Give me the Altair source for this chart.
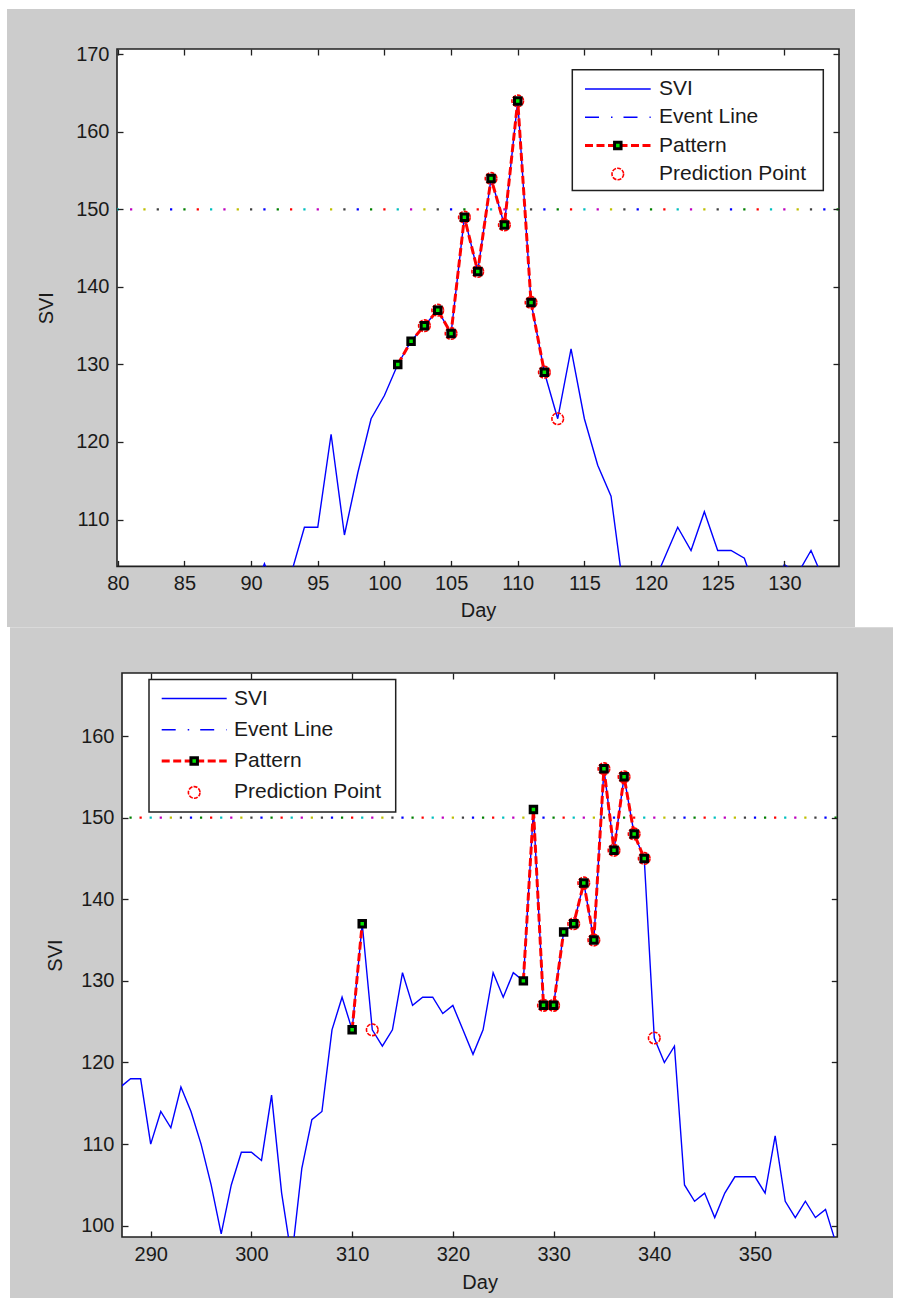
import altair as alt
import pandas as pd

FONT = "Liberation Sans"
TXT = "#1a1a1a"
AX = "#202020"
GREY = "#cccccc"
CYCLE = ["b", "g", "r", "c", "m", "y", "k"]
CYCLE_COLORS = ["#0000ff", "#008000", "#ff0000", "#00bfbf", "#bf00bf", "#bfbf00", "#404040"]
LEGEND_LABELS = ["SVI", "Event Line", "Pattern", "Prediction Point"]
EVENT_LEVEL = 150

# ---------------- top panel data ----------------
top_days = list(range(90, 135))
top_svi = [100, 104.3, 100, 103, 109, 109, 121, 108, 116, 123, 126, 130, 133, 135, 137,
           134, 149, 142, 154, 148, 164, 138, 129, 123, 132, 123, 117, 113, 100, 98,
           101, 105, 109, 106, 111, 106, 106, 105, 100, 100, 104.2, 103, 106, 102, 100]
top_pattern_days = list(range(101, 113))
top_pattern_svi = [130, 133, 135, 137, 134, 149, 142, 154, 148, 164, 138, 129]
top_pattern_seg = [0] * 12
top_ring_days = list(range(103, 113))
top_ring_svi = [135, 137, 134, 149, 142, 154, 148, 164, 138, 129]
top_pred_days = [113]
top_pred_svi = [123]
top_event_days = list(range(80, 135))
top_event_first_color = 3  # day 80 -> cyan
top_xticks = [80, 85, 90, 95, 100, 105, 110, 115, 120, 125, 130]
top_yticks = [110, 120, 130, 140, 150, 160, 170]

# ---------------- bottom panel data ----------------
bot_days = list(range(287, 359))
bot_svi = [117, 118, 118, 110, 114, 112, 117, 114, 110, 105, 99, 105, 109, 109, 108, 116,
           104, 96, 107, 113, 114, 124, 128, 124, 137, 124, 122, 124, 131, 127, 128, 128,
           126, 127, 124, 121, 124, 131, 128, 131, 130, 151, 127, 127, 136, 137, 142, 135,
           156, 146, 155, 148, 145, 123, 120, 122, 105, 103, 104, 101, 104, 106, 106, 106,
           104, 111, 103, 101, 103, 101, 102, 98]
bot_pattern_days = [310, 311, 327, 328, 329, 330, 331, 332, 333, 334, 335, 336, 337, 338, 339]
bot_pattern_svi = [124, 137, 130, 151, 127, 127, 136, 137, 142, 135, 156, 146, 155, 148, 145]
bot_pattern_seg = [0, 0, 1, 1, 1, 1, 1, 1, 1, 1, 1, 1, 1, 1, 1]
bot_ring_days = [329, 330, 332, 333, 334, 335, 336, 337, 338, 339]
bot_ring_svi = [127, 127, 137, 142, 135, 156, 146, 155, 148, 145]
bot_pred_days = [312, 340]
bot_pred_svi = [124, 123]
bot_event_days = list(range(287, 359))
bot_event_first_color = 0  # day 287 -> blue
bot_xticks = [290, 300, 310, 320, 330, 340, 350]
bot_yticks = [100, 110, 120, 130, 140, 150, 160]

RING_STYLE = dict(shape="circle", size=135, filled=False, color="#ff0000",
                  strokeWidth=1.6, strokeDash=[4, 1.2], opacity=1)
SQUARE_STYLE = dict(size=42, filled=True, fill="#00e600", stroke="#000000",
                    strokeWidth=3, opacity=1)
PATTERN_STYLE = dict(color="#ff0000", strokeWidth=3, strokeDash=[8, 3.5])


def one():
    return pd.DataFrame({"o": [0]})


def legend_layers(box, ys, lx0, lx1, mx, tx):
    bx0, by0, bx1, by1 = box
    L = []
    L.append(alt.Chart(one()).mark_rect(fill="white", stroke=AX, strokeWidth=1.5).encode(
        x=alt.value(bx0), x2=alt.value(bx1), y=alt.value(by0), y2=alt.value(by1)))
    # SVI
    L.append(alt.Chart(one()).mark_rule(color="#0000ff", strokeWidth=1.4).encode(
        x=alt.value(lx0), x2=alt.value(lx1), y=alt.value(ys[0])))
    # Event line
    L.append(alt.Chart(one()).mark_rule(color="#0000ff", strokeWidth=1.4,
                                        strokeDash=[14, 12, 1.5, 11]).encode(
        x=alt.value(lx0), x2=alt.value(lx1), y=alt.value(ys[1])))
    # Pattern
    L.append(alt.Chart(one()).mark_rule(**PATTERN_STYLE).encode(
        x=alt.value(lx0), x2=alt.value(lx1), y=alt.value(ys[2])))
    L.append(alt.Chart(one()).mark_square(**SQUARE_STYLE).encode(
        x=alt.value(mx), y=alt.value(ys[2])))
    # Prediction point
    L.append(alt.Chart(one()).mark_point(**RING_STYLE).encode(
        x=alt.value(mx), y=alt.value(ys[3])))
    for lab, yy in zip(LEGEND_LABELS, ys):
        L.append(alt.Chart(one()).mark_text(text=lab, align="left", baseline="middle", font=FONT,
                                            fontSize=21, color=TXT).encode(
            x=alt.value(tx), y=alt.value(yy)))
    return L


def panel(days, svi, pdays, psvi, pseg, rdays, rsvi, qdays, qsvi, edays, efirst,
          xdom, ydom, xt, yt, W, H, grey_box, leg, ytitle_x, title_y):
    xs = alt.Scale(domain=xdom, nice=False, zero=False)
    ysc = alt.Scale(domain=ydom, nice=False, zero=False)
    gx0, gy0, gx1, gy1 = grey_box

    grey = alt.Chart(one()).mark_rect(color=GREY).encode(
        x=alt.value(gx0), x2=alt.value(gx1), y=alt.value(gy0), y2=alt.value(gy1))
    frame = alt.Chart(one()).mark_rect(fill="white", stroke=AX, strokeWidth=1.6).encode(
        x=alt.value(0), x2=alt.value(W), y=alt.value(0), y2=alt.value(H))

    svi_df = pd.DataFrame({"day": days, "svi": svi})
    x_lab = alt.Axis(orient="bottom", values=xt, title="Day", ticks=False, tickSize=0,
                     domain=False, grid=False, labelPadding=7, labelFont=FONT, labelFontSize=20,
                     labelColor=TXT, titleFont=FONT, titleFontSize=20, titleFontWeight="normal",
                     titleColor=TXT, titleX=W / 2, titleY=title_y, titleBaseline="alphabetic",
                     titleAlign="center", labelFlush=False, labelOverlap=False, zindex=1,
                     format="d")
    y_lab = alt.Axis(orient="left", values=yt, title="SVI", ticks=False, tickSize=0,
                     domain=False, grid=False, labelPadding=8, labelFont=FONT, labelFontSize=20,
                     labelColor=TXT, titleFont=FONT, titleFontSize=20, titleFontWeight="normal",
                     titleColor=TXT, titleX=ytitle_x, titleY=H / 2, titleAngle=270,
                     titleBaseline="middle", titleAlign="center", labelFlush=False,
                     labelOverlap=False, zindex=1, format="d")
    line = alt.Chart(svi_df).mark_line(color="#0000ff", strokeWidth=1.4, clip=True).encode(
        x=alt.X("day:Q", scale=xs, axis=x_lab),
        y=alt.Y("svi:Q", scale=ysc, axis=y_lab))

    ev_df = pd.DataFrame({"day": edays, "lvl": [EVENT_LEVEL] * len(edays),
                          "c": [CYCLE[(i + efirst) % 7] for i in range(len(edays))]})
    ev = alt.Chart(ev_df).mark_square(size=5, opacity=1, clip=True).encode(
        x=alt.X("day:Q", scale=xs, axis=None),
        y=alt.Y("lvl:Q", scale=ysc, axis=None),
        color=alt.Color("c:N", scale=alt.Scale(domain=CYCLE, range=CYCLE_COLORS), legend=None))

    pat_df = pd.DataFrame({"day": pdays, "svi": psvi, "seg": pseg})
    pat_line = alt.Chart(pat_df).mark_line(clip=True, **PATTERN_STYLE).encode(
        x=alt.X("day:Q", scale=xs, axis=None),
        y=alt.Y("svi:Q", scale=ysc, axis=None),
        detail="seg:N")

    ring_df = pd.DataFrame({"day": rdays + qdays, "svi": rsvi + qsvi})
    rings = alt.Chart(ring_df).mark_point(clip=True, **RING_STYLE).encode(
        x=alt.X("day:Q", scale=xs, axis=None),
        y=alt.Y("svi:Q", scale=ysc, axis=None))

    squares = alt.Chart(pat_df).mark_square(clip=True, **SQUARE_STYLE).encode(
        x=alt.X("day:Q", scale=xs, axis=None),
        y=alt.Y("svi:Q", scale=ysc, axis=None))

    tick_common = dict(labels=False, ticks=True, tickSize=6, tickWidth=1.3, tickColor=AX,
                       domain=False, grid=False, title=None, zindex=1)
    ticks1 = alt.Chart(svi_df).mark_point(opacity=0).encode(
        x=alt.X("day:Q", scale=xs, axis=alt.Axis(orient="top", offset=-H, values=xt, **tick_common)),
        y=alt.Y("svi:Q", scale=ysc, axis=alt.Axis(orient="right", offset=-W, values=yt, **tick_common)))
    ticks2 = alt.Chart(svi_df).mark_point(opacity=0).encode(
        x=alt.X("day:Q", scale=xs, axis=alt.Axis(orient="bottom", offset=-H, values=xt, **tick_common)),
        y=alt.Y("svi:Q", scale=ysc, axis=alt.Axis(orient="left", offset=-W, values=yt, **tick_common)))

    layers = [grey, frame, line, ev, pat_line, rings, squares, ticks1, ticks2] + legend_layers(*leg)
    return alt.layer(*layers).resolve_axis(x="independent", y="independent").properties(
        width=W, height=H)


TW, TH = 722, 517.4
BW, BH = 715.3, 564

top = panel(top_days, top_svi, top_pattern_days, top_pattern_svi, top_pattern_seg,
            top_ring_days, top_ring_svi, top_pred_days, top_pred_svi,
            top_event_days, top_event_first_color,
            [79.94, 134.1], [103.95, 170.7], top_xticks, top_yticks, TW, TH,
            (-110, -40, 738, 578),
            ((455.3, 20.7, 706.3, 141.4), [40, 68.3, 96.6, 125], 468, 533.7, 500.8, 542),
            -71, 50)

bottom = panel(bot_days, bot_svi, bot_pattern_days, bot_pattern_svi, bot_pattern_seg,
               bot_ring_days, bot_ring_svi, bot_pred_days, bot_pred_svi,
               bot_event_days, bot_event_first_color,
               [287.15, 358.17], [98.62, 167.72], bot_xticks, bot_yticks, BW, BH,
               (-112, -45.7, 771, 625.3),
               ((27, 6.6, 273.7, 139), [25.5, 56.8, 88.1, 119.4], 39.7, 104.7, 72.2, 112),
               -67, 51)

spacer = alt.Chart(one()).mark_point(opacity=0).properties(width=5, height=5)

chart = alt.vconcat(
    top,
    alt.hconcat(spacer, bottom, spacing=0, bounds="flush"),
    spacing=106, bounds="flush"
).properties(
    padding={"left": 7, "top": 9, "right": 0, "bottom": 0}
).configure(background="white", font=FONT).configure_view(stroke=None)

chart.save("out.html", embed_options={"renderer": "svg", "actions": False})
